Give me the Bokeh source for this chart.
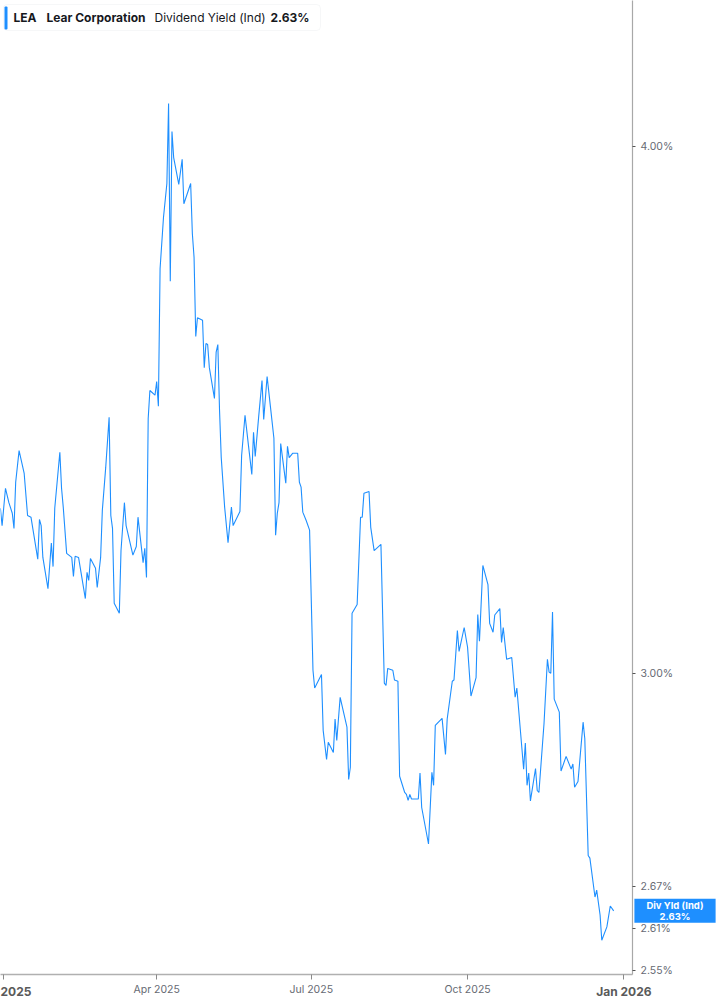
import pandas as pd
from bokeh.plotting import figure
from bokeh.models import (Range1d, FixedTicker, PrintfTickFormatter, CustomJSTickFormatter,
                          Label, BoxAnnotation, ColumnDataSource, DatetimeAxis)
from bokeh.embed import file_html
from bokeh.resources import INLINE

# ---------------- data ----------------
dates = [
    "2024-12-30", "2024-12-31", "2025-01-02", "2025-01-04", "2025-01-06", "2025-01-07", "2025-01-08",
    "2025-01-10", "2025-01-13", "2025-01-15", "2025-01-17", "2025-01-21", "2025-01-22", "2025-01-23",
    "2025-01-24", "2025-01-27", "2025-01-29", "2025-01-30", "2025-01-31", "2025-02-03", "2025-02-04",
    "2025-02-05", "2025-02-07", "2025-02-10", "2025-02-11", "2025-02-12", "2025-02-14", "2025-02-18",
    "2025-02-19", "2025-02-20", "2025-02-21", "2025-02-24", "2025-02-25", "2025-02-27", "2025-02-28",
    "2025-03-02", "2025-03-04", "2025-03-05", "2025-03-06", "2025-03-07", "2025-03-10", "2025-03-11",
    "2025-03-13", "2025-03-14", "2025-03-18", "2025-03-20", "2025-03-21", "2025-03-24", "2025-03-25",
    "2025-03-26", "2025-03-27", "2025-03-28", "2025-03-31", "2025-04-01", "2025-04-02", "2025-04-03",
    "2025-04-05", "2025-04-07", "2025-04-08", "2025-04-09", "2025-04-10", "2025-04-11", "2025-04-14",
    "2025-04-16", "2025-04-17", "2025-04-21", "2025-04-22", "2025-04-23", "2025-04-24", "2025-04-25",
    "2025-04-28", "2025-04-29", "2025-04-30", "2025-05-01", "2025-05-02", "2025-05-05", "2025-05-06",
    "2025-05-07", "2025-05-08", "2025-05-09", "2025-05-11", "2025-05-13", "2025-05-15", "2025-05-16",
    "2025-05-20", "2025-05-21", "2025-05-23", "2025-05-25", "2025-05-27", "2025-05-28", "2025-05-29",
    "2025-05-31", "2025-06-02", "2025-06-03", "2025-06-05", "2025-06-07", "2025-06-09", "2025-06-10",
    "2025-06-11", "2025-06-12", "2025-06-13", "2025-06-15", "2025-06-16", "2025-06-17", "2025-06-18",
    "2025-06-20", "2025-06-23", "2025-06-24", "2025-06-25", "2025-06-26", "2025-06-28", "2025-06-30",
    "2025-07-02", "2025-07-03", "2025-07-07", "2025-07-08", "2025-07-10", "2025-07-11", "2025-07-14",
    "2025-07-15", "2025-07-16", "2025-07-18", "2025-07-22", "2025-07-23", "2025-07-24", "2025-07-25",
    "2025-07-28", "2025-07-30", "2025-07-31", "2025-08-01", "2025-08-04", "2025-08-05", "2025-08-07",
    "2025-08-11", "2025-08-13", "2025-08-14", "2025-08-15", "2025-08-18", "2025-08-19", "2025-08-21",
    "2025-08-22", "2025-08-25", "2025-08-26", "2025-08-27", "2025-08-28", "2025-08-29", "2025-09-02",
    "2025-09-03", "2025-09-04", "2025-09-08", "2025-09-10", "2025-09-11", "2025-09-12", "2025-09-16",
    "2025-09-18", "2025-09-19", "2025-09-22", "2025-09-23", "2025-09-25", "2025-09-26", "2025-09-29",
    "2025-10-01", "2025-10-03", "2025-10-06", "2025-10-07", "2025-10-08", "2025-10-10", "2025-10-13",
    "2025-10-14", "2025-10-16", "2025-10-17", "2025-10-20", "2025-10-21", "2025-10-22", "2025-10-24",
    "2025-10-27", "2025-10-29", "2025-10-30", "2025-11-03", "2025-11-04", "2025-11-05", "2025-11-06",
    "2025-11-07", "2025-11-10", "2025-11-11", "2025-11-12", "2025-11-15", "2025-11-17", "2025-11-18",
    "2025-11-19", "2025-11-20", "2025-11-21", "2025-11-24", "2025-11-25", "2025-11-28", "2025-12-01",
    "2025-12-02", "2025-12-03", "2025-12-05", "2025-12-08", "2025-12-09", "2025-12-11", "2025-12-12",
    "2025-12-15", "2025-12-16", "2025-12-18", "2025-12-19", "2025-12-22", "2025-12-24", "2025-12-26",
]

dividend_yield = [
    3.283, 3.252, 3.319, 3.293, 3.274, 3.247, 3.330,
    3.388, 3.346, 3.270, 3.267, 3.193, 3.263, 3.252,
    3.196, 3.142, 3.221, 3.180, 3.283, 3.385, 3.319,
    3.285, 3.203, 3.196, 3.163, 3.198, 3.196, 3.125,
    3.170, 3.156, 3.194, 3.177, 3.144, 3.196, 3.279,
    3.357, 3.450, 3.270, 3.247, 3.117, 3.100, 3.208,
    3.293, 3.252, 3.200, 3.215, 3.267, 3.187, 3.212,
    3.161, 3.448, 3.501, 3.492, 3.518, 3.471, 3.742,
    3.848, 3.920, 4.095, 3.716, 4.033, 3.976, 3.918,
    3.972, 3.877, 3.920, 3.814, 3.765, 3.606, 3.643,
    3.638, 3.545, 3.592, 3.590, 3.545, 3.486, 3.575,
    3.590, 3.463, 3.375, 3.285, 3.222, 3.285, 3.252,
    3.277, 3.379, 3.454, 3.398, 3.344, 3.422, 3.377,
    3.450, 3.520, 3.446, 3.528, 3.469, 3.411, 3.235,
    3.274, 3.293, 3.401, 3.352, 3.328, 3.396, 3.375,
    3.383, 3.383, 3.330, 3.321, 3.276, 3.261, 3.244,
    3.005, 2.976, 2.998, 2.908, 2.862, 2.889, 2.873,
    2.926, 2.892, 2.961, 2.913, 2.831, 2.850, 3.100,
    3.115, 3.267, 3.267, 3.310, 3.313, 3.249, 3.208,
    3.219, 2.984, 2.980, 3.008, 3.005, 2.989, 2.987,
    2.836, 2.811, 2.808, 2.799, 2.808, 2.801, 2.801,
    2.841, 2.788, 2.733, 2.842, 2.822, 2.916, 2.927,
    2.870, 2.926, 2.987, 2.989, 3.071, 3.036, 3.076,
    3.043, 2.963, 2.993, 3.098, 3.053, 3.182, 3.149,
    3.083, 3.068, 3.097, 3.108, 3.051, 3.076, 3.023,
    3.026, 2.961, 2.976, 2.847, 2.888, 2.822, 2.841,
    2.798, 2.848, 2.814, 2.811, 2.919, 3.023, 3.002,
    3.000, 3.102, 2.958, 2.937, 2.844, 2.867, 2.847,
    2.855, 2.819, 2.828, 2.921, 2.895, 2.716, 2.712,
    2.655, 2.665, 2.629, 2.593, 2.612, 2.642, 2.635,
]

y_ticks = [2.55, 2.61, 2.67, 3.00, 4.00]
x_tick_dates = ["2025-01-01", "2025-04-01", "2025-07-01", "2025-10-01", "2026-01-01"]
x_tick_labels = ["2025", "Apr 2025", "Jul 2025", "Oct 2025", "Jan 2026"]
x_tick_is_year = [True, False, False, False, True]

ticker_symbol = "LEA"
company_name = "Lear Corporation"
metric_name = "Dividend Yield (Ind)"
latest_yield = 2.63
callout_title = "Div Yld (Ind)"

# ---------------- styling ----------------
LINE_BLUE = "#1e8fff"
FONT = "Inter"
FRAME_W, FRAME_H = 632, 974
RIGHT_W = 85
BOTTOM_H = 31

src = ColumnDataSource(dict(x=pd.to_datetime(dates), y=dividend_yield))

p = figure(
    x_axis_type="datetime", y_axis_type="log", y_axis_location="right",
    frame_width=FRAME_W, frame_height=FRAME_H,
    x_range=Range1d(pd.Timestamp("2024-12-30 01:30"), pd.Timestamp("2026-01-06 02:00")),
    y_range=Range1d(2.545, 4.332),
    output_backend="svg", toolbar_location=None,
    min_border_left=0, min_border_top=0, min_border_right=RIGHT_W, min_border_bottom=BOTTOM_H,
    background_fill_color="white", border_fill_color="white", outline_line_color=None,
)
p.grid.visible = False

p.line("x", "y", source=src, line_color=LINE_BLUE, line_width=1.1)

# y axis (right, log)
ya = p.yaxis[0]
ya.ticker = FixedTicker(ticks=y_ticks, minor_ticks=[])
ya.formatter = PrintfTickFormatter(format="%.2f%%")
ya.axis_line_color = "#a8a8a8"
ya.axis_line_width = 1.2
ya.major_tick_line_color = "#555555"
ya.major_tick_in = 0
ya.major_tick_out = 3
ya.minor_tick_line_color = None
ya.major_label_standoff = 5
ya.major_label_text_font = FONT
ya.major_label_text_font_size = "10.5px"
ya.major_label_text_color = "#666a73"

x_ticks_ms = [pd.Timestamp(d).value // 10**6 for d in x_tick_dates]
label_args = dict(tick_ms=x_ticks_ms, tick_labels=x_tick_labels, year_flags=x_tick_is_year)

# main x axis: line, ticks and the bold year labels
xa = p.xaxis[0]
xa.ticker = FixedTicker(ticks=x_ticks_ms, minor_ticks=[])
xa.formatter = CustomJSTickFormatter(args=label_args, code="""
    const i = tick_ms.indexOf(tick);
    return (i >= 0 && year_flags[i]) ? tick_labels[i] : "";
""")
xa.axis_line_color = "#b0b0b0"
xa.axis_line_width = 1.6
xa.major_tick_line_color = "#8a8a8a"
xa.major_tick_in = 0
xa.major_tick_out = 5
xa.minor_tick_line_color = None
xa.major_label_standoff = 4
xa.major_label_text_font = FONT
xa.major_label_text_font_size = "12px"
xa.major_label_text_font_style = "bold"
xa.major_label_text_color = "#5a5a5a"

# value callout on the right axis (kept in a side panel so it is not clipped to the frame)
callout = Label(x=FRAME_W + RIGHT_W / 2, y=dividend_yield[-1], x_units="canvas", y_units="data",
                text=f"{callout_title}\n{latest_yield:.2f}%", text_align="center", text_baseline="middle",
                text_font=FONT, text_font_size="9.5px", text_font_style="bold", text_color="white",
                text_line_height=1.0,
                background_fill_color=LINE_BLUE, background_fill_alpha=1.0, padding=(12, 1))
p.add_layout(callout, "below")

# second x axis: regular month labels, pulled up into the label row of the main axis
xb = DatetimeAxis(ticker=FixedTicker(ticks=x_ticks_ms, minor_ticks=[]),
                  formatter=CustomJSTickFormatter(args=label_args, code="""
    const i = tick_ms.indexOf(tick);
    return (i >= 0 && !year_flags[i]) ? tick_labels[i] : "";
"""))
xb.axis_line_color = None
xb.major_tick_line_color = None
xb.minor_tick_line_color = None
xb.major_tick_in = 0
xb.major_tick_out = 0
xb.major_label_standoff = -43
xb.major_label_text_font = FONT
xb.major_label_text_font_size = "10.5px"
xb.major_label_text_color = "#666a73"
p.add_layout(xb, "below")

# header legend box
p.add_layout(BoxAnnotation(left=3, right=320, top=FRAME_H - 4, bottom=FRAME_H - 30,
                           left_units="screen", right_units="screen", top_units="screen", bottom_units="screen",
                           fill_color="white", fill_alpha=1.0, line_color="#e2e4e8", line_width=1,
                           border_radius=4))
p.add_layout(BoxAnnotation(left=4, right=7, top=FRAME_H - 6, bottom=FRAME_H - 29,
                           left_units="screen", right_units="screen", top_units="screen", bottom_units="screen",
                           fill_color=LINE_BLUE, fill_alpha=1.0, line_color=None, border_radius=1))

header_parts = [
    (13, ticker_symbol, "bold"),
    (46, company_name, "bold"),
    (154, metric_name, "normal"),
    (270, f"{latest_yield:.2f}%", "bold"),
]
for xpos, txt, style in header_parts:
    p.add_layout(Label(x=xpos, y=FRAME_H - 17, x_units="screen", y_units="screen", text=txt,
                       text_align="left", text_baseline="middle", text_font=FONT,
                       text_font_size="12px", text_font_style=style, text_color="#16181d"))

open("out.html", "w").write(file_html(p, INLINE))
